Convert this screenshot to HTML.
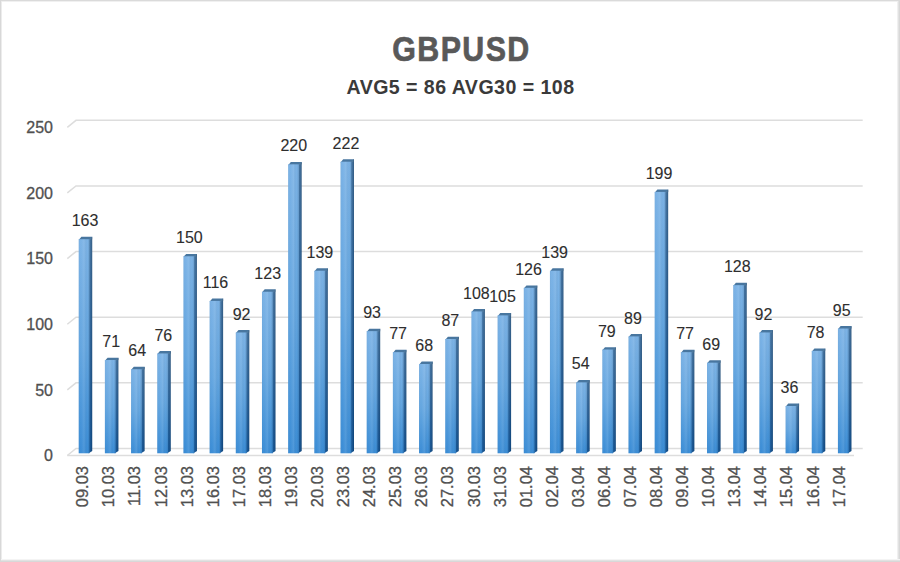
<!DOCTYPE html>
<html><head><meta charset="utf-8"><style>
html,body{margin:0;padding:0;background:#fff;}
body{width:900px;height:562px;overflow:hidden;position:relative;}
svg{position:absolute;left:0;top:0;}
text{font-family:"Liberation Sans",sans-serif;}
</style></head><body>
<svg width="900" height="562" viewBox="0 0 900 562">
<defs>
<linearGradient id="gf" x1="0" y1="0" x2="0" y2="1">
<stop offset="0" stop-color="#7cb3e6"/><stop offset="0.5" stop-color="#64a6e0"/><stop offset="1" stop-color="#3b8dd6"/>
</linearGradient>
<linearGradient id="gs" x1="0" y1="0" x2="0" y2="1">
<stop offset="0" stop-color="#3a6c9c"/><stop offset="1" stop-color="#0a4c8e"/>
</linearGradient>
<linearGradient id="gh" x1="0" y1="0" x2="1" y2="0">
<stop offset="0" stop-color="#000" stop-opacity="0.04"/><stop offset="0.2" stop-color="#fff" stop-opacity="0"/><stop offset="0.5" stop-color="#fff" stop-opacity="0.1"/><stop offset="0.8" stop-color="#000" stop-opacity="0"/><stop offset="1" stop-color="#000" stop-opacity="0.12"/>
</linearGradient>
<linearGradient id="gsh" x1="0" y1="0" x2="1" y2="0"><stop offset="0" stop-color="#fff" stop-opacity="0.03"/><stop offset="1" stop-color="#000" stop-opacity="0.2"/></linearGradient>
</defs>
<rect x="0" y="0" width="900" height="562" fill="#fff"/>

<rect x="0" y="1" width="900" height="1" fill="#f0f0f0"/><rect x="1" y="0" width="1" height="562" fill="#ececec"/>
<rect x="897" y="0" width="1" height="562" fill="#f0f0f0"/><rect x="898" y="0" width="1" height="562" fill="#e2e2e2"/><rect x="899" y="0" width="1" height="562" fill="#d8d8d8"/>
<rect x="0" y="559" width="900" height="1" fill="#f4f4f4"/><rect x="0" y="560" width="900" height="1" fill="#e2e2e2"/><rect x="0" y="561" width="900" height="1" fill="#d8d8d8"/>
<rect x="0" y="0" width="900" height="1" fill="#dadada"/><rect x="0" y="0" width="1" height="562" fill="#d8d8d8"/>
<polyline points="67.3,455.5 76,448.5 862.7,448.5" fill="none" stroke="#dddddd" stroke-width="1.5"/>
<polyline points="67.3,389.86 76,382.86 862.7,382.86" fill="none" stroke="#dddddd" stroke-width="1.5"/>
<polyline points="67.3,324.22 76,317.22 862.7,317.22" fill="none" stroke="#dddddd" stroke-width="1.5"/>
<polyline points="67.3,258.58 76,251.58 862.7,251.58" fill="none" stroke="#dddddd" stroke-width="1.5"/>
<polyline points="67.3,192.94 76,185.94 862.7,185.94" fill="none" stroke="#dddddd" stroke-width="1.5"/>
<polyline points="67.3,127.3 76,120.3 862.7,120.3" fill="none" stroke="#dddddd" stroke-width="1.5"/>
<line x1="67.3" y1="455.5" x2="854" y2="455.5" stroke="#dddddd" stroke-width="1.5"/>
<text x="53" y="461.3" text-anchor="end" font-size="16" fill="#505050" stroke="#505050" stroke-width="0.3">0</text>
<text x="53" y="395.66" text-anchor="end" font-size="16" fill="#505050" stroke="#505050" stroke-width="0.3">50</text>
<text x="53" y="330.02" text-anchor="end" font-size="16" fill="#505050" stroke="#505050" stroke-width="0.3">100</text>
<text x="53" y="264.38" text-anchor="end" font-size="16" fill="#505050" stroke="#505050" stroke-width="0.3">150</text>
<text x="53" y="198.74" text-anchor="end" font-size="16" fill="#505050" stroke="#505050" stroke-width="0.3">200</text>
<text x="53" y="133.1" text-anchor="end" font-size="16" fill="#505050" stroke="#505050" stroke-width="0.3">250</text>
<polygon points="88.7,239.2 92.2,236.8 92.2,450.9 88.7,453.3" fill="url(#gs)"/>
<polygon points="78.7,240 81.4,236.8 92.2,236.8 92.2,239.2 89.5,240" fill="#48769f"/>
<rect x="78.7" y="239.2" width="10.8" height="214.1" fill="url(#gf)"/>
<rect x="78.7" y="239.2" width="10.8" height="214.1" fill="url(#gh)"/>
<polygon points="89.5,239.2 92.2,236.8 92.2,450.9 89.5,453.3" fill="url(#gsh)"/>
<text x="85.05" y="226.3" text-anchor="middle" font-size="16" fill="#2e2e2e" stroke="#2e2e2e" stroke-width="0.1">163</text>
<text transform="translate(88.3,466) rotate(-90)" x="0" y="0" text-anchor="end" font-size="16.5" fill="#505050" stroke="#505050" stroke-width="0.3">09.03</text>
<polygon points="114.88,360.04 118.38,357.64 118.38,450.9 114.88,453.3" fill="url(#gs)"/>
<polygon points="104.88,360.84 107.58,357.64 118.38,357.64 118.38,360.04 115.68,360.84" fill="#48769f"/>
<rect x="104.88" y="360.04" width="10.8" height="93.26" fill="url(#gf)"/>
<rect x="104.88" y="360.04" width="10.8" height="93.26" fill="url(#gh)"/>
<polygon points="115.68,360.04 118.38,357.64 118.38,450.9 115.68,453.3" fill="url(#gsh)"/>
<text x="111.14" y="347.14" text-anchor="middle" font-size="16" fill="#2e2e2e" stroke="#2e2e2e" stroke-width="0.1">71</text>
<text transform="translate(114.38,466) rotate(-90)" x="0" y="0" text-anchor="end" font-size="16.5" fill="#505050" stroke="#505050" stroke-width="0.3">10.03</text>
<polygon points="141.06,369.24 144.56,366.84 144.56,450.9 141.06,453.3" fill="url(#gs)"/>
<polygon points="131.06,370.04 133.76,366.84 144.56,366.84 144.56,369.24 141.86,370.04" fill="#48769f"/>
<rect x="131.06" y="369.24" width="10.8" height="84.06" fill="url(#gf)"/>
<rect x="131.06" y="369.24" width="10.8" height="84.06" fill="url(#gh)"/>
<polygon points="141.86,369.24 144.56,366.84 144.56,450.9 141.86,453.3" fill="url(#gsh)"/>
<text x="137.23" y="356.34" text-anchor="middle" font-size="16" fill="#2e2e2e" stroke="#2e2e2e" stroke-width="0.1">64</text>
<text transform="translate(140.46,466) rotate(-90)" x="0" y="0" text-anchor="end" font-size="16.5" fill="#505050" stroke="#505050" stroke-width="0.3">11.03</text>
<polygon points="167.24,353.47 170.74,351.07 170.74,450.9 167.24,453.3" fill="url(#gs)"/>
<polygon points="157.24,354.27 159.94,351.07 170.74,351.07 170.74,353.47 168.04,354.27" fill="#48769f"/>
<rect x="157.24" y="353.47" width="10.8" height="99.83" fill="url(#gf)"/>
<rect x="157.24" y="353.47" width="10.8" height="99.83" fill="url(#gh)"/>
<polygon points="168.04,353.47 170.74,351.07 170.74,450.9 168.04,453.3" fill="url(#gsh)"/>
<text x="163.32" y="340.57" text-anchor="middle" font-size="16" fill="#2e2e2e" stroke="#2e2e2e" stroke-width="0.1">76</text>
<text transform="translate(166.54,466) rotate(-90)" x="0" y="0" text-anchor="end" font-size="16.5" fill="#505050" stroke="#505050" stroke-width="0.3">12.03</text>
<polygon points="193.42,256.28 196.92,253.88 196.92,450.9 193.42,453.3" fill="url(#gs)"/>
<polygon points="183.42,257.08 186.12,253.88 196.92,253.88 196.92,256.28 194.22,257.08" fill="#48769f"/>
<rect x="183.42" y="256.28" width="10.8" height="197.02" fill="url(#gf)"/>
<rect x="183.42" y="256.28" width="10.8" height="197.02" fill="url(#gh)"/>
<polygon points="194.22,256.28 196.92,253.88 196.92,450.9 194.22,453.3" fill="url(#gsh)"/>
<text x="189.41" y="243.38" text-anchor="middle" font-size="16" fill="#2e2e2e" stroke="#2e2e2e" stroke-width="0.1">150</text>
<text transform="translate(192.62,466) rotate(-90)" x="0" y="0" text-anchor="end" font-size="16.5" fill="#505050" stroke="#505050" stroke-width="0.3">13.03</text>
<polygon points="219.6,300.93 223.1,298.53 223.1,450.9 219.6,453.3" fill="url(#gs)"/>
<polygon points="209.6,301.73 212.3,298.53 223.1,298.53 223.1,300.93 220.4,301.73" fill="#48769f"/>
<rect x="209.6" y="300.93" width="10.8" height="152.37" fill="url(#gf)"/>
<rect x="209.6" y="300.93" width="10.8" height="152.37" fill="url(#gh)"/>
<polygon points="220.4,300.93 223.1,298.53 223.1,450.9 220.4,453.3" fill="url(#gsh)"/>
<text x="215.5" y="288.03" text-anchor="middle" font-size="16" fill="#2e2e2e" stroke="#2e2e2e" stroke-width="0.1">116</text>
<text transform="translate(218.7,466) rotate(-90)" x="0" y="0" text-anchor="end" font-size="16.5" fill="#505050" stroke="#505050" stroke-width="0.3">16.03</text>
<polygon points="245.78,332.46 249.28,330.06 249.28,450.9 245.78,453.3" fill="url(#gs)"/>
<polygon points="235.78,333.26 238.48,330.06 249.28,330.06 249.28,332.46 246.58,333.26" fill="#48769f"/>
<rect x="235.78" y="332.46" width="10.8" height="120.84" fill="url(#gf)"/>
<rect x="235.78" y="332.46" width="10.8" height="120.84" fill="url(#gh)"/>
<polygon points="246.58,332.46 249.28,330.06 249.28,450.9 246.58,453.3" fill="url(#gsh)"/>
<text x="241.59" y="319.56" text-anchor="middle" font-size="16" fill="#2e2e2e" stroke="#2e2e2e" stroke-width="0.1">92</text>
<text transform="translate(244.78,466) rotate(-90)" x="0" y="0" text-anchor="end" font-size="16.5" fill="#505050" stroke="#505050" stroke-width="0.3">17.03</text>
<polygon points="271.96,291.74 275.46,289.34 275.46,450.9 271.96,453.3" fill="url(#gs)"/>
<polygon points="261.96,292.54 264.66,289.34 275.46,289.34 275.46,291.74 272.76,292.54" fill="#48769f"/>
<rect x="261.96" y="291.74" width="10.8" height="161.56" fill="url(#gf)"/>
<rect x="261.96" y="291.74" width="10.8" height="161.56" fill="url(#gh)"/>
<polygon points="272.76,291.74 275.46,289.34 275.46,450.9 272.76,453.3" fill="url(#gsh)"/>
<text x="267.68" y="278.84" text-anchor="middle" font-size="16" fill="#2e2e2e" stroke="#2e2e2e" stroke-width="0.1">123</text>
<text transform="translate(270.86,466) rotate(-90)" x="0" y="0" text-anchor="end" font-size="16.5" fill="#505050" stroke="#505050" stroke-width="0.3">18.03</text>
<polygon points="298.14,164.33 301.64,161.93 301.64,450.9 298.14,453.3" fill="url(#gs)"/>
<polygon points="288.14,165.13 290.84,161.93 301.64,161.93 301.64,164.33 298.94,165.13" fill="#48769f"/>
<rect x="288.14" y="164.33" width="10.8" height="288.97" fill="url(#gf)"/>
<rect x="288.14" y="164.33" width="10.8" height="288.97" fill="url(#gh)"/>
<polygon points="298.94,164.33 301.64,161.93 301.64,450.9 298.94,453.3" fill="url(#gsh)"/>
<text x="293.77" y="151.43" text-anchor="middle" font-size="16" fill="#2e2e2e" stroke="#2e2e2e" stroke-width="0.1">220</text>
<text transform="translate(296.94,466) rotate(-90)" x="0" y="0" text-anchor="end" font-size="16.5" fill="#505050" stroke="#505050" stroke-width="0.3">19.03</text>
<polygon points="324.32,270.72 327.82,268.32 327.82,450.9 324.32,453.3" fill="url(#gs)"/>
<polygon points="314.32,271.52 317.02,268.32 327.82,268.32 327.82,270.72 325.12,271.52" fill="#48769f"/>
<rect x="314.32" y="270.72" width="10.8" height="182.58" fill="url(#gf)"/>
<rect x="314.32" y="270.72" width="10.8" height="182.58" fill="url(#gh)"/>
<polygon points="325.12,270.72 327.82,268.32 327.82,450.9 325.12,453.3" fill="url(#gsh)"/>
<text x="319.86" y="257.82" text-anchor="middle" font-size="16" fill="#2e2e2e" stroke="#2e2e2e" stroke-width="0.1">139</text>
<text transform="translate(323.02,466) rotate(-90)" x="0" y="0" text-anchor="end" font-size="16.5" fill="#505050" stroke="#505050" stroke-width="0.3">20.03</text>
<polygon points="350.5,161.7 354,159.3 354,450.9 350.5,453.3" fill="url(#gs)"/>
<polygon points="340.5,162.5 343.2,159.3 354,159.3 354,161.7 351.3,162.5" fill="#48769f"/>
<rect x="340.5" y="161.7" width="10.8" height="291.6" fill="url(#gf)"/>
<rect x="340.5" y="161.7" width="10.8" height="291.6" fill="url(#gh)"/>
<polygon points="351.3,161.7 354,159.3 354,450.9 351.3,453.3" fill="url(#gsh)"/>
<text x="345.95" y="148.8" text-anchor="middle" font-size="16" fill="#2e2e2e" stroke="#2e2e2e" stroke-width="0.1">222</text>
<text transform="translate(349.1,466) rotate(-90)" x="0" y="0" text-anchor="end" font-size="16.5" fill="#505050" stroke="#505050" stroke-width="0.3">23.03</text>
<polygon points="376.68,331.14 380.18,328.74 380.18,450.9 376.68,453.3" fill="url(#gs)"/>
<polygon points="366.68,331.94 369.38,328.74 380.18,328.74 380.18,331.14 377.48,331.94" fill="#48769f"/>
<rect x="366.68" y="331.14" width="10.8" height="122.16" fill="url(#gf)"/>
<rect x="366.68" y="331.14" width="10.8" height="122.16" fill="url(#gh)"/>
<polygon points="377.48,331.14 380.18,328.74 380.18,450.9 377.48,453.3" fill="url(#gsh)"/>
<text x="372.04" y="318.24" text-anchor="middle" font-size="16" fill="#2e2e2e" stroke="#2e2e2e" stroke-width="0.1">93</text>
<text transform="translate(375.18,466) rotate(-90)" x="0" y="0" text-anchor="end" font-size="16.5" fill="#505050" stroke="#505050" stroke-width="0.3">24.03</text>
<polygon points="402.86,352.16 406.36,349.76 406.36,450.9 402.86,453.3" fill="url(#gs)"/>
<polygon points="392.86,352.96 395.56,349.76 406.36,349.76 406.36,352.16 403.66,352.96" fill="#48769f"/>
<rect x="392.86" y="352.16" width="10.8" height="101.14" fill="url(#gf)"/>
<rect x="392.86" y="352.16" width="10.8" height="101.14" fill="url(#gh)"/>
<polygon points="403.66,352.16 406.36,349.76 406.36,450.9 403.66,453.3" fill="url(#gsh)"/>
<text x="398.13" y="339.26" text-anchor="middle" font-size="16" fill="#2e2e2e" stroke="#2e2e2e" stroke-width="0.1">77</text>
<text transform="translate(401.26,466) rotate(-90)" x="0" y="0" text-anchor="end" font-size="16.5" fill="#505050" stroke="#505050" stroke-width="0.3">25.03</text>
<polygon points="429.04,363.98 432.54,361.58 432.54,450.9 429.04,453.3" fill="url(#gs)"/>
<polygon points="419.04,364.78 421.74,361.58 432.54,361.58 432.54,363.98 429.84,364.78" fill="#48769f"/>
<rect x="419.04" y="363.98" width="10.8" height="89.32" fill="url(#gf)"/>
<rect x="419.04" y="363.98" width="10.8" height="89.32" fill="url(#gh)"/>
<polygon points="429.84,363.98 432.54,361.58 432.54,450.9 429.84,453.3" fill="url(#gsh)"/>
<text x="424.22" y="351.08" text-anchor="middle" font-size="16" fill="#2e2e2e" stroke="#2e2e2e" stroke-width="0.1">68</text>
<text transform="translate(427.34,466) rotate(-90)" x="0" y="0" text-anchor="end" font-size="16.5" fill="#505050" stroke="#505050" stroke-width="0.3">26.03</text>
<polygon points="455.22,339.03 458.72,336.63 458.72,450.9 455.22,453.3" fill="url(#gs)"/>
<polygon points="445.22,339.83 447.92,336.63 458.72,336.63 458.72,339.03 456.02,339.83" fill="#48769f"/>
<rect x="445.22" y="339.03" width="10.8" height="114.27" fill="url(#gf)"/>
<rect x="445.22" y="339.03" width="10.8" height="114.27" fill="url(#gh)"/>
<polygon points="456.02,339.03 458.72,336.63 458.72,450.9 456.02,453.3" fill="url(#gsh)"/>
<text x="450.31" y="326.13" text-anchor="middle" font-size="16" fill="#2e2e2e" stroke="#2e2e2e" stroke-width="0.1">87</text>
<text transform="translate(453.42,466) rotate(-90)" x="0" y="0" text-anchor="end" font-size="16.5" fill="#505050" stroke="#505050" stroke-width="0.3">27.03</text>
<polygon points="481.4,311.44 484.9,309.04 484.9,450.9 481.4,453.3" fill="url(#gs)"/>
<polygon points="471.4,312.24 474.1,309.04 484.9,309.04 484.9,311.44 482.2,312.24" fill="#48769f"/>
<rect x="471.4" y="311.44" width="10.8" height="141.86" fill="url(#gf)"/>
<rect x="471.4" y="311.44" width="10.8" height="141.86" fill="url(#gh)"/>
<polygon points="482.2,311.44 484.9,309.04 484.9,450.9 482.2,453.3" fill="url(#gsh)"/>
<text x="476.4" y="298.54" text-anchor="middle" font-size="16" fill="#2e2e2e" stroke="#2e2e2e" stroke-width="0.1">108</text>
<text transform="translate(479.5,466) rotate(-90)" x="0" y="0" text-anchor="end" font-size="16.5" fill="#505050" stroke="#505050" stroke-width="0.3">30.03</text>
<polygon points="507.58,315.38 511.08,312.98 511.08,450.9 507.58,453.3" fill="url(#gs)"/>
<polygon points="497.58,316.18 500.28,312.98 511.08,312.98 511.08,315.38 508.38,316.18" fill="#48769f"/>
<rect x="497.58" y="315.38" width="10.8" height="137.92" fill="url(#gf)"/>
<rect x="497.58" y="315.38" width="10.8" height="137.92" fill="url(#gh)"/>
<polygon points="508.38,315.38 511.08,312.98 511.08,450.9 508.38,453.3" fill="url(#gsh)"/>
<text x="502.49" y="302.48" text-anchor="middle" font-size="16" fill="#2e2e2e" stroke="#2e2e2e" stroke-width="0.1">105</text>
<text transform="translate(505.58,466) rotate(-90)" x="0" y="0" text-anchor="end" font-size="16.5" fill="#505050" stroke="#505050" stroke-width="0.3">31.03</text>
<polygon points="533.76,287.8 537.26,285.4 537.26,450.9 533.76,453.3" fill="url(#gs)"/>
<polygon points="523.76,288.6 526.46,285.4 537.26,285.4 537.26,287.8 534.56,288.6" fill="#48769f"/>
<rect x="523.76" y="287.8" width="10.8" height="165.5" fill="url(#gf)"/>
<rect x="523.76" y="287.8" width="10.8" height="165.5" fill="url(#gh)"/>
<polygon points="534.56,287.8 537.26,285.4 537.26,450.9 534.56,453.3" fill="url(#gsh)"/>
<text x="528.58" y="274.9" text-anchor="middle" font-size="16" fill="#2e2e2e" stroke="#2e2e2e" stroke-width="0.1">126</text>
<text transform="translate(531.66,466) rotate(-90)" x="0" y="0" text-anchor="end" font-size="16.5" fill="#505050" stroke="#505050" stroke-width="0.3">01.04</text>
<polygon points="559.94,270.72 563.44,268.32 563.44,450.9 559.94,453.3" fill="url(#gs)"/>
<polygon points="549.94,271.52 552.64,268.32 563.44,268.32 563.44,270.72 560.74,271.52" fill="#48769f"/>
<rect x="549.94" y="270.72" width="10.8" height="182.58" fill="url(#gf)"/>
<rect x="549.94" y="270.72" width="10.8" height="182.58" fill="url(#gh)"/>
<polygon points="560.74,270.72 563.44,268.32 563.44,450.9 560.74,453.3" fill="url(#gsh)"/>
<text x="554.67" y="257.82" text-anchor="middle" font-size="16" fill="#2e2e2e" stroke="#2e2e2e" stroke-width="0.1">139</text>
<text transform="translate(557.74,466) rotate(-90)" x="0" y="0" text-anchor="end" font-size="16.5" fill="#505050" stroke="#505050" stroke-width="0.3">02.04</text>
<polygon points="586.12,382.37 589.62,379.97 589.62,450.9 586.12,453.3" fill="url(#gs)"/>
<polygon points="576.12,383.17 578.82,379.97 589.62,379.97 589.62,382.37 586.92,383.17" fill="#48769f"/>
<rect x="576.12" y="382.37" width="10.8" height="70.93" fill="url(#gf)"/>
<rect x="576.12" y="382.37" width="10.8" height="70.93" fill="url(#gh)"/>
<polygon points="586.92,382.37 589.62,379.97 589.62,450.9 586.92,453.3" fill="url(#gsh)"/>
<text x="580.76" y="369.47" text-anchor="middle" font-size="16" fill="#2e2e2e" stroke="#2e2e2e" stroke-width="0.1">54</text>
<text transform="translate(583.82,466) rotate(-90)" x="0" y="0" text-anchor="end" font-size="16.5" fill="#505050" stroke="#505050" stroke-width="0.3">03.04</text>
<polygon points="612.3,349.53 615.8,347.13 615.8,450.9 612.3,453.3" fill="url(#gs)"/>
<polygon points="602.3,350.33 605,347.13 615.8,347.13 615.8,349.53 613.1,350.33" fill="#48769f"/>
<rect x="602.3" y="349.53" width="10.8" height="103.77" fill="url(#gf)"/>
<rect x="602.3" y="349.53" width="10.8" height="103.77" fill="url(#gh)"/>
<polygon points="613.1,349.53 615.8,347.13 615.8,450.9 613.1,453.3" fill="url(#gsh)"/>
<text x="606.85" y="336.63" text-anchor="middle" font-size="16" fill="#2e2e2e" stroke="#2e2e2e" stroke-width="0.1">79</text>
<text transform="translate(609.9,466) rotate(-90)" x="0" y="0" text-anchor="end" font-size="16.5" fill="#505050" stroke="#505050" stroke-width="0.3">06.04</text>
<polygon points="638.48,336.4 641.98,334 641.98,450.9 638.48,453.3" fill="url(#gs)"/>
<polygon points="628.48,337.2 631.18,334 641.98,334 641.98,336.4 639.28,337.2" fill="#48769f"/>
<rect x="628.48" y="336.4" width="10.8" height="116.9" fill="url(#gf)"/>
<rect x="628.48" y="336.4" width="10.8" height="116.9" fill="url(#gh)"/>
<polygon points="639.28,336.4 641.98,334 641.98,450.9 639.28,453.3" fill="url(#gsh)"/>
<text x="632.94" y="323.5" text-anchor="middle" font-size="16" fill="#2e2e2e" stroke="#2e2e2e" stroke-width="0.1">89</text>
<text transform="translate(635.98,466) rotate(-90)" x="0" y="0" text-anchor="end" font-size="16.5" fill="#505050" stroke="#505050" stroke-width="0.3">07.04</text>
<polygon points="664.66,191.91 668.16,189.51 668.16,450.9 664.66,453.3" fill="url(#gs)"/>
<polygon points="654.66,192.71 657.36,189.51 668.16,189.51 668.16,191.91 665.46,192.71" fill="#48769f"/>
<rect x="654.66" y="191.91" width="10.8" height="261.39" fill="url(#gf)"/>
<rect x="654.66" y="191.91" width="10.8" height="261.39" fill="url(#gh)"/>
<polygon points="665.46,191.91 668.16,189.51 668.16,450.9 665.46,453.3" fill="url(#gsh)"/>
<text x="659.03" y="179.01" text-anchor="middle" font-size="16" fill="#2e2e2e" stroke="#2e2e2e" stroke-width="0.1">199</text>
<text transform="translate(662.06,466) rotate(-90)" x="0" y="0" text-anchor="end" font-size="16.5" fill="#505050" stroke="#505050" stroke-width="0.3">08.04</text>
<polygon points="690.84,352.16 694.34,349.76 694.34,450.9 690.84,453.3" fill="url(#gs)"/>
<polygon points="680.84,352.96 683.54,349.76 694.34,349.76 694.34,352.16 691.64,352.96" fill="#48769f"/>
<rect x="680.84" y="352.16" width="10.8" height="101.14" fill="url(#gf)"/>
<rect x="680.84" y="352.16" width="10.8" height="101.14" fill="url(#gh)"/>
<polygon points="691.64,352.16 694.34,349.76 694.34,450.9 691.64,453.3" fill="url(#gsh)"/>
<text x="685.12" y="339.26" text-anchor="middle" font-size="16" fill="#2e2e2e" stroke="#2e2e2e" stroke-width="0.1">77</text>
<text transform="translate(688.14,466) rotate(-90)" x="0" y="0" text-anchor="end" font-size="16.5" fill="#505050" stroke="#505050" stroke-width="0.3">09.04</text>
<polygon points="717.02,362.67 720.52,360.27 720.52,450.9 717.02,453.3" fill="url(#gs)"/>
<polygon points="707.02,363.47 709.72,360.27 720.52,360.27 720.52,362.67 717.82,363.47" fill="#48769f"/>
<rect x="707.02" y="362.67" width="10.8" height="90.63" fill="url(#gf)"/>
<rect x="707.02" y="362.67" width="10.8" height="90.63" fill="url(#gh)"/>
<polygon points="717.82,362.67 720.52,360.27 720.52,450.9 717.82,453.3" fill="url(#gsh)"/>
<text x="711.21" y="349.77" text-anchor="middle" font-size="16" fill="#2e2e2e" stroke="#2e2e2e" stroke-width="0.1">69</text>
<text transform="translate(714.22,466) rotate(-90)" x="0" y="0" text-anchor="end" font-size="16.5" fill="#505050" stroke="#505050" stroke-width="0.3">10.04</text>
<polygon points="743.2,285.17 746.7,282.77 746.7,450.9 743.2,453.3" fill="url(#gs)"/>
<polygon points="733.2,285.97 735.9,282.77 746.7,282.77 746.7,285.17 744,285.97" fill="#48769f"/>
<rect x="733.2" y="285.17" width="10.8" height="168.13" fill="url(#gf)"/>
<rect x="733.2" y="285.17" width="10.8" height="168.13" fill="url(#gh)"/>
<polygon points="744,285.17 746.7,282.77 746.7,450.9 744,453.3" fill="url(#gsh)"/>
<text x="737.3" y="272.27" text-anchor="middle" font-size="16" fill="#2e2e2e" stroke="#2e2e2e" stroke-width="0.1">128</text>
<text transform="translate(740.3,466) rotate(-90)" x="0" y="0" text-anchor="end" font-size="16.5" fill="#505050" stroke="#505050" stroke-width="0.3">13.04</text>
<polygon points="769.38,332.46 772.88,330.06 772.88,450.9 769.38,453.3" fill="url(#gs)"/>
<polygon points="759.38,333.26 762.08,330.06 772.88,330.06 772.88,332.46 770.18,333.26" fill="#48769f"/>
<rect x="759.38" y="332.46" width="10.8" height="120.84" fill="url(#gf)"/>
<rect x="759.38" y="332.46" width="10.8" height="120.84" fill="url(#gh)"/>
<polygon points="770.18,332.46 772.88,330.06 772.88,450.9 770.18,453.3" fill="url(#gsh)"/>
<text x="763.39" y="319.56" text-anchor="middle" font-size="16" fill="#2e2e2e" stroke="#2e2e2e" stroke-width="0.1">92</text>
<text transform="translate(766.38,466) rotate(-90)" x="0" y="0" text-anchor="end" font-size="16.5" fill="#505050" stroke="#505050" stroke-width="0.3">14.04</text>
<polygon points="795.56,406.01 799.06,403.61 799.06,450.9 795.56,453.3" fill="url(#gs)"/>
<polygon points="785.56,406.81 788.26,403.61 799.06,403.61 799.06,406.01 796.36,406.81" fill="#48769f"/>
<rect x="785.56" y="406.01" width="10.8" height="47.29" fill="url(#gf)"/>
<rect x="785.56" y="406.01" width="10.8" height="47.29" fill="url(#gh)"/>
<polygon points="796.36,406.01 799.06,403.61 799.06,450.9 796.36,453.3" fill="url(#gsh)"/>
<text x="789.48" y="393.11" text-anchor="middle" font-size="16" fill="#2e2e2e" stroke="#2e2e2e" stroke-width="0.1">36</text>
<text transform="translate(792.46,466) rotate(-90)" x="0" y="0" text-anchor="end" font-size="16.5" fill="#505050" stroke="#505050" stroke-width="0.3">15.04</text>
<polygon points="821.74,350.85 825.24,348.45 825.24,450.9 821.74,453.3" fill="url(#gs)"/>
<polygon points="811.74,351.65 814.44,348.45 825.24,348.45 825.24,350.85 822.54,351.65" fill="#48769f"/>
<rect x="811.74" y="350.85" width="10.8" height="102.45" fill="url(#gf)"/>
<rect x="811.74" y="350.85" width="10.8" height="102.45" fill="url(#gh)"/>
<polygon points="822.54,350.85 825.24,348.45 825.24,450.9 822.54,453.3" fill="url(#gsh)"/>
<text x="815.57" y="337.95" text-anchor="middle" font-size="16" fill="#2e2e2e" stroke="#2e2e2e" stroke-width="0.1">78</text>
<text transform="translate(818.54,466) rotate(-90)" x="0" y="0" text-anchor="end" font-size="16.5" fill="#505050" stroke="#505050" stroke-width="0.3">16.04</text>
<polygon points="847.92,328.52 851.42,326.12 851.42,450.9 847.92,453.3" fill="url(#gs)"/>
<polygon points="837.92,329.32 840.62,326.12 851.42,326.12 851.42,328.52 848.72,329.32" fill="#48769f"/>
<rect x="837.92" y="328.52" width="10.8" height="124.78" fill="url(#gf)"/>
<rect x="837.92" y="328.52" width="10.8" height="124.78" fill="url(#gh)"/>
<polygon points="848.72,328.52 851.42,326.12 851.42,450.9 848.72,453.3" fill="url(#gsh)"/>
<text x="841.66" y="315.62" text-anchor="middle" font-size="16" fill="#2e2e2e" stroke="#2e2e2e" stroke-width="0.1">95</text>
<text transform="translate(844.62,466) rotate(-90)" x="0" y="0" text-anchor="end" font-size="16.5" fill="#505050" stroke="#505050" stroke-width="0.3">17.04</text>
<text transform="translate(461.5,60.6) scale(0.88,1)" x="0" y="0" text-anchor="middle" font-size="34.5" font-weight="bold" fill="#595959" stroke="#595959" stroke-width="0.7" letter-spacing="1.6">GBPUSD</text>
<text x="460.5" y="94.1" text-anchor="middle" font-size="19.6" font-weight="bold" fill="#3a3a3a" letter-spacing="0.45">AVG5 = 86 AVG30 = 108</text>
</svg></body></html>
